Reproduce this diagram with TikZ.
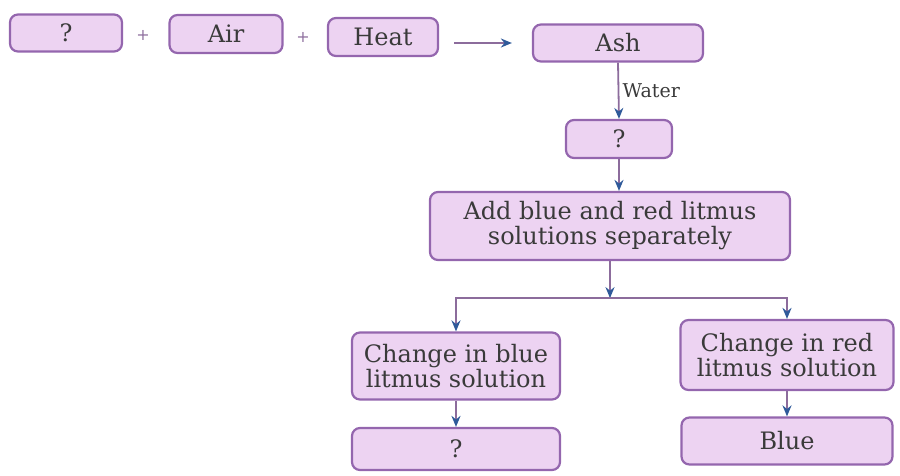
\documentclass[tikz,border=0pt]{standalone}
\usepackage{fontspec}
\setmainfont{DejaVu Serif}
\usetikzlibrary{arrows.meta}

\definecolor{boxfill}{HTML}{EDD3F2}
\definecolor{boxline}{HTML}{9466AE}
\definecolor{linecol}{HTML}{8C6C9C}
\definecolor{tipcol}{HTML}{2F5A9A}
\definecolor{txtcol}{HTML}{3A3A3A}

\tikzset{
    chartbox/.style={draw=boxline, fill=boxfill, line width=2.2pt, rounded corners=8pt,
        text=txtcol, align=center, inner sep=2pt, font=\fontsize{24}{25}\selectfont},
    arr/.style={draw=linecol, line width=1.8pt, -{Stealth[length=11pt,width=9pt,color=tipcol]}},
    plus/.style={text=linecol, font=\fontsize{16}{16}\selectfont}
}

\begin{document}
\begin{tikzpicture}[x=1pt, y=-1pt]
    \useasboundingbox (0,0) rectangle (900,475);

    % top row
    \node[chartbox, minimum width=112pt, minimum height=37pt] (fuel) at (66,33) {?};
    \node[plus] (plusa) at (143,35) {+};
    \node[chartbox, minimum width=113pt, minimum height=38pt] (air) at (226,34) {Air};
    \node[plus] (plusb) at (303,37) {+};
    \node[chartbox, minimum width=110pt, minimum height=38pt] (heat) at (383,37) {Heat};
    \node[chartbox, minimum width=170pt, minimum height=37pt] (ash) at (618,43) {Ash};

    % middle
    \node[chartbox, minimum width=106pt, minimum height=38pt] (sol) at (619,139) {?};
    \node[chartbox, minimum width=360pt, minimum height=68pt] (add) at (610,226)
        {Add blue and red litmus\\solutions separately};

    % branches
    \node[chartbox, minimum width=208pt, minimum height=67pt] (bluech) at (456,366)
        {Change in blue\\litmus solution};
    \node[chartbox, minimum width=213pt, minimum height=70pt] (redch) at (787,355)
        {Change in red\\litmus solution};
    \node[chartbox, minimum width=208pt, minimum height=42pt] (bres) at (456,449) {?};
    \node[chartbox, minimum width=211pt, minimum height=47pt] (rres) at (787,441) {Blue};

    \coordinate (split) at ([yshift=-37pt]add.south);

    \draw[arr, shorten <=15pt, shorten >=20pt] (heat.east |- ash.west) -- (ash.west);
    \draw[arr] (ash.south) -- node[right, text=txtcol, font=\fontsize{19}{19}\selectfont]{Water} (sol.north);
    \draw[arr] (sol.south) -- (sol.south |- add.north);
    \draw[arr] (add.south) -- (split);
    \draw[arr] (split) -| (bluech.north);
    \draw[arr] (split) -| (redch.north);
    \draw[arr] (bluech.south) -- (bres.north);
    \draw[arr] (redch.south) -- (rres.north);
\end{tikzpicture}
\end{document}
